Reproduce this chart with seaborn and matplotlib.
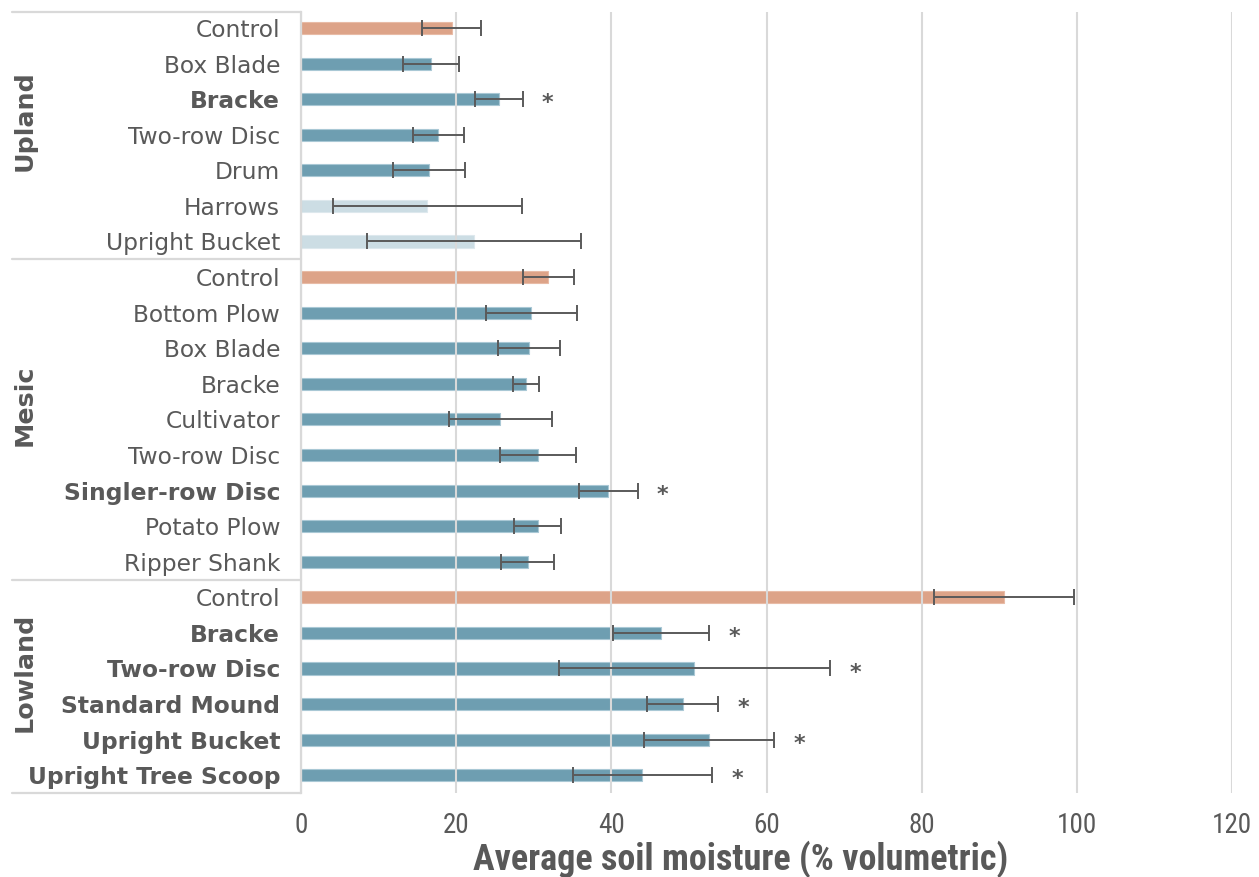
import matplotlib
matplotlib.use("Agg")
import matplotlib.pyplot as plt
import matplotlib.transforms as mtransforms
from matplotlib import font_manager
import seaborn as sns
import pandas as pd
import numpy as np

# ---- data ----
groups = ["Upland"] * 7 + ["Mesic"] * 9 + ["Lowland"] * 6
treatments = [
    "Control", "Box Blade", "Bracke", "Two-row Disc", "Drum", "Harrows", "Upright Bucket",
    "Control", "Bottom Plow", "Box Blade", "Bracke", "Cultivator", "Two-row Disc",
    "Singler-row Disc", "Potato Plow", "Ripper Shank",
    "Control", "Bracke", "Two-row Disc", "Standard Mound", "Upright Bucket", "Upright Tree Scoop",
]
moisture = [
    19.4, 16.8, 25.5, 17.7, 16.5, 16.3, 22.3,
    31.9, 29.7, 29.4, 29.0, 25.7, 30.5, 39.6, 30.5, 29.2,
    90.6, 46.4, 50.7, 49.2, 52.6, 44.0,
]
errors = [
    3.8, 3.6, 3.1, 3.3, 4.7, 12.2, 13.8,
    3.3, 5.9, 4.0, 1.7, 6.6, 4.9, 3.8, 3.0, 3.4,
    9.0, 6.2, 17.5, 4.6, 8.4, 9.0,
]
kind = [
    "control", "treat", "sig", "treat", "treat", "light", "light",
    "control", "treat", "treat", "treat", "treat", "treat", "sig", "treat", "treat",
    "control", "sig", "sig", "sig", "sig", "sig",
]
x_ticks = [0, 20, 40, 60, 80, 100, 120]

palette = {"control": "#DDA388", "treat": "#6E9EB1", "sig": "#6E9EB1", "light": "#CCDDE4"}
edge_palette = {"control": "#E8BBA6", "treat": "#A9C8D5", "sig": "#A9C8D5", "light": "#DDE8ED"}
TXT = "#595959"
GRID = "#D9D9D9"

# pick a narrow font if one is installed
available = {f.name for f in font_manager.fontManager.ttflist}
narrow_candidates = ["Liberation Sans Narrow", "Roboto Condensed", "Open Sans Condensed",
                     "Arial Narrow", "PT Sans Narrow", "Archivo Narrow", "Pathway Gothic One"]
narrow = next((n for n in narrow_candidates if n in available), None)
has_dv_cond = any(f.name == "DejaVu Sans" and f.stretch in ("condensed", "semi-condensed")
                  for f in font_manager.fontManager.ttflist)
if narrow:
    NUM_FONT = dict(family=[narrow, "DejaVu Sans"])
elif has_dv_cond:
    NUM_FONT = dict(family=["DejaVu Sans"], stretch="condensed")
else:
    NUM_FONT = dict(family=["DejaVu Sans"])

df = pd.DataFrame({
    "row": [f"r{i}" for i in range(len(treatments))],
    "treatment": treatments,
    "group": groups,
    "moisture": moisture,
    "err": errors,
    "kind": kind,
})

sns.set_theme(style="white")
plt.rcParams["font.family"] = ["DejaVu Sans"]

fig = plt.figure(figsize=(12.59, 8.77), dpi=100)
ax = fig.add_axes([301 / 1259, 1 - 793 / 877, 931 / 1259, 781 / 877])

sns.barplot(data=df, x="moisture", y="row", hue="kind", palette=palette, dodge=False,
            orient="h", width=0.34, legend=False, ax=ax, errorbar=None, saturation=1,
            zorder=1)

ypos = np.arange(len(df))
for patch, k in zip(sorted(ax.patches, key=lambda p: p.get_y()), df["kind"]):
    patch.set_edgecolor(edge_palette[k])
    patch.set_linewidth(0.8)

ax.errorbar(df["moisture"], ypos, xerr=df["err"], fmt="none", ecolor="#5A5A5A",
            elinewidth=1.4, capsize=5.5, capthick=1.4, zorder=4)

# significance stars
for i, (m, e, k) in enumerate(zip(df["moisture"], df["err"], df["kind"])):
    if k == "sig":
        ax.text(m + e + 3.2, i + 0.12, "*", ha="center", va="center", fontsize=16,
                fontweight="bold", color=TXT, zorder=5)

ax.set_xlim(0, 120)
ax.set_ylim(len(df) - 0.5, -0.45)
ax.set_xticks(x_ticks)
ax.set_xticklabels([str(t) for t in x_ticks], fontsize=19.5, color=TXT, **NUM_FONT)
ax.tick_params(axis="x", length=7, color=GRID, width=1.2, pad=7)
ax.tick_params(axis="y", length=0, pad=15)
ax.set_yticks(ypos)
ax.set_yticklabels(df["treatment"], fontsize=16.8, color=TXT)
for lab, k in zip(ax.get_yticklabels(), df["kind"]):
    if k == "sig":
        lab.set_fontweight("bold")

ax.grid(axis="x", color=GRID, linewidth=1.5, zorder=3)
ax.grid(axis="y", visible=False)
ax.set_axisbelow(False)
for s in ["top", "right", "bottom"]:
    ax.spines[s].set_visible(False)
ax.spines["left"].set_color(GRID)
ax.spines["left"].set_linewidth(1.6)
ax.set_ylabel("")
ax.set_xlabel("Average soil moisture (% volumetric)", fontsize=26, fontweight="bold",
              color=TXT, **NUM_FONT)
ax.xaxis.label.set_va("center")
ax.xaxis.set_label_coords((741 - 301) / 931, (793 - 859) / 781)

# group table lines and labels
trans = mtransforms.blended_transform_factory(ax.transAxes, ax.transData)
x_left = (12 - 301) / 931
group_names = list(dict.fromkeys(groups))
bounds = [-0.45]
for g in group_names:
    idx = [i for i, gg in enumerate(groups) if gg == g]
    bounds.append(idx[-1] + 0.5)
bounds[-1] = len(df) - 0.5
for b in bounds:
    ax.plot([x_left, 0], [b, b], transform=trans, color=GRID, linewidth=1.6, clip_on=False)
for g in group_names:
    idx = [i for i, gg in enumerate(groups) if gg == g]
    center = (idx[0] + idx[-1]) / 2 - 0.4
    ax.text((25 - 301) / 931, center, g, transform=trans, rotation=90, ha="center",
            va="center", fontsize=18.3, fontweight="bold", color=TXT)

fig.savefig("out.png", dpi=100)
